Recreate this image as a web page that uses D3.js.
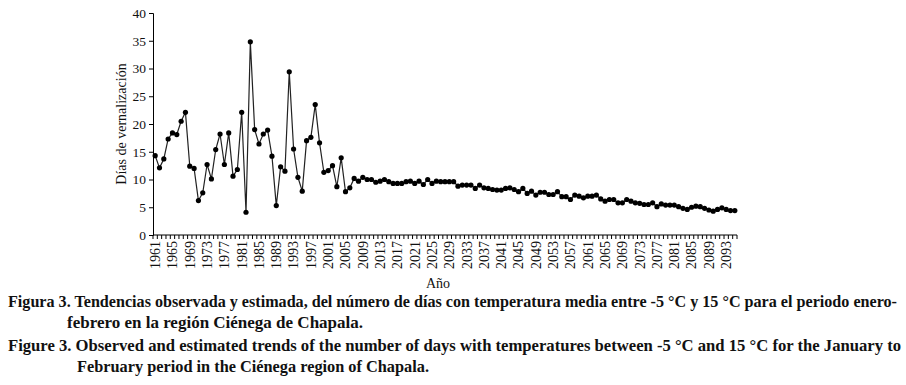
<!DOCTYPE html>
<html>
<head>
<meta charset="utf-8">
<script src="https://cdn.jsdelivr.net/npm/d3@7"></script>
<style>
  body { margin: 0; background: #fff; }
  svg text { font-family: "Liberation Serif", "Times New Roman", serif; }
</style>
</head>
<body>
<svg id="chart"></svg>
<script>
var firstYear = 1961
var days = [
    14.3, 12.1, 13.7, 17.3, 18.4, 18.1, 20.5, 22.1, 12.4, 12.0,
    6.2, 7.6, 12.7, 10.1, 15.4, 18.2, 12.7, 18.4, 10.6, 11.8,
    22.1, 4.1, 34.8, 19.0, 16.4, 18.2, 18.9, 14.2, 5.3, 12.3,
    11.5, 29.4, 15.5, 10.4, 7.9, 17.0, 17.6, 23.5, 16.6, 11.3,
    11.6, 12.5, 8.7, 13.9, 7.8, 8.5, 10.2, 9.7, 10.4, 10.0,
    10.0, 9.5, 9.7, 10.0, 9.6, 9.3, 9.3, 9.3, 9.6, 9.7,
    9.3, 9.7, 9.1, 10.0, 9.3, 9.7, 9.6, 9.6, 9.6, 9.6,
    8.8, 9.0, 9.0, 9.0, 8.4, 9.0, 8.5, 8.4, 8.2, 8.1,
    8.1, 8.4, 8.5, 8.2, 7.8, 8.4, 7.5, 7.9, 7.2, 7.7,
    7.7, 7.3, 7.3, 7.8, 6.9, 6.9, 6.4, 7.2, 7.0, 6.7,
    7.0, 7.0, 7.2, 6.5, 6.1, 6.4, 6.4, 5.8, 5.8, 6.4,
    6.1, 5.8, 5.7, 5.5, 5.5, 5.8, 5.1, 5.6, 5.4, 5.4,
    5.4, 5.1, 4.8, 4.6, 5.0, 5.2, 5.1, 4.8, 4.5, 4.3,
    4.6, 4.9, 4.6, 4.4, 4.4
]
var years = days.map((d, i) => firstYear + i)
var yTicks = [0, 5, 10, 15, 20, 25, 30, 35, 40]
var labelYears = years.filter(y => (y - firstYear) % 4 === 0)

var yTitle = "Días de vernalización"
var xTitle = "Año"
var captionLines = [
    "Figura 3. Tendencias observada y estimada, del número de días con temperatura media entre -5 °C y 15 °C para el periodo enero-",
    "febrero en la región Ciénega de Chapala.",
    "Figure 3. Observed and estimated trends of the number of days with temperatures between -5 °C and 15 °C for the January to",
    "February period in the Ciénega region of Chapala."
]

var serif = "'Liberation Serif', 'Times New Roman', serif"

var dimensions = {
    width: 906,
    height: 385,
    margin: { top: 13, left: 153, right: 169, bottom: 150 }
}

var svg = d3.select("#chart")
    .attr("width", dimensions.width)
    .attr("height", dimensions.height)

var dataset = years.map((y, i) => ({ year: y, value: days[i] }))
var yearAccessor = d => d.year
var valueAccessor = d => d.value

var xScale = d3.scaleBand()
    .domain(years)
    .range([dimensions.margin.left, dimensions.width - dimensions.margin.right])
var yScale = d3.scaleLinear()
    .domain([0, 40])
    .range([dimensions.height - dimensions.margin.bottom, dimensions.margin.top])

var baseY = yScale(0)

// y axis
var yAxisGen = d3.axisLeft(yScale).tickValues(yTicks).tickSize(4).tickPadding(3)
var yAxis = svg.append("g")
    .attr("transform", `translate(${dimensions.margin.left},0)`)
    .call(yAxisGen)
yAxis.attr("font-family", serif)
yAxis.selectAll("text").attr("font-size", 13.5).attr("fill", "#111")
yAxis.selectAll("line, path").attr("stroke", "#000")

// x axis: ticks between categories, like the spreadsheet chart
var xg = svg.append("g")
xg.append("line")
    .attr("x1", xScale.range()[0]).attr("x2", xScale.range()[1])
    .attr("y1", baseY).attr("y2", baseY)
    .attr("stroke", "#000")
xg.selectAll(".xtick")
    .data(years.concat(["end"]))
    .enter()
    .append("line")
    .attr("class", "xtick")
    .attr("x1", d => d === "end" ? xScale.range()[1] : xScale(d))
    .attr("x2", d => d === "end" ? xScale.range()[1] : xScale(d))
    .attr("y1", baseY).attr("y2", baseY + 4)
    .attr("stroke", "#000")

var xAxisGen = d3.axisBottom(xScale).tickValues(labelYears).tickSize(0)
var xAxis = svg.append("g")
    .attr("transform", `translate(0,${baseY})`)
    .call(xAxisGen)
xAxis.attr("font-family", serif)
xAxis.select(".domain").remove()
xAxis.selectAll("text")
    .attr("font-size", 14)
    .attr("fill", "#111")
    .attr("text-anchor", "end")
    .attr("dy", "0.35em")
    .attr("transform", "translate(0,6) rotate(-90)")
    .attr("x", 0)
    .attr("y", 0)

// line + markers
var lineGen = d3.line()
    .x(d => xScale(yearAccessor(d)) + xScale.bandwidth() / 2)
    .y(d => yScale(valueAccessor(d)))
svg.append("path")
    .datum(dataset)
    .attr("d", lineGen)
    .attr("fill", "none")
    .attr("stroke", "#222")
    .attr("stroke-width", 1.2)
svg.append("g")
    .selectAll("circle")
    .data(dataset)
    .enter()
    .append("circle")
    .attr("cx", d => xScale(yearAccessor(d)) + xScale.bandwidth() / 2)
    .attr("cy", d => yScale(valueAccessor(d)))
    .attr("r", 2.6)
    .attr("fill", "#000")

// axis titles
var midY = (yScale(0) + yScale(40)) / 2
svg.append("text")
    .attr("text-anchor", "middle")
    .attr("font-size", 14)
    .attr("fill", "#111")
    .attr("transform", `translate(126,${midY}) rotate(-90)`)
    .text(yTitle)
svg.append("text")
    .attr("text-anchor", "middle")
    .attr("font-size", 14)
    .attr("fill", "#111")
    .attr("x", 438)
    .attr("y", 288)
    .text(xTitle)

// caption
var captionPos = [
    { x: 8, y: 307, w: 889 },
    { x: 67, y: 328, w: 296 },
    { x: 8, y: 351, w: 893 },
    { x: 77, y: 372, w: 352 }
]
svg.append("g")
    .selectAll("text")
    .data(captionLines)
    .enter()
    .append("text")
    .attr("x", (d, i) => captionPos[i].x)
    .attr("y", (d, i) => captionPos[i].y)
    .attr("textLength", (d, i) => captionPos[i].w)
    .attr("lengthAdjust", "spacingAndGlyphs")
    .attr("font-size", 16)
    .attr("font-weight", "bold")
    .attr("fill", "#111")
    .text(d => d)
</script>
</body>
</html>
